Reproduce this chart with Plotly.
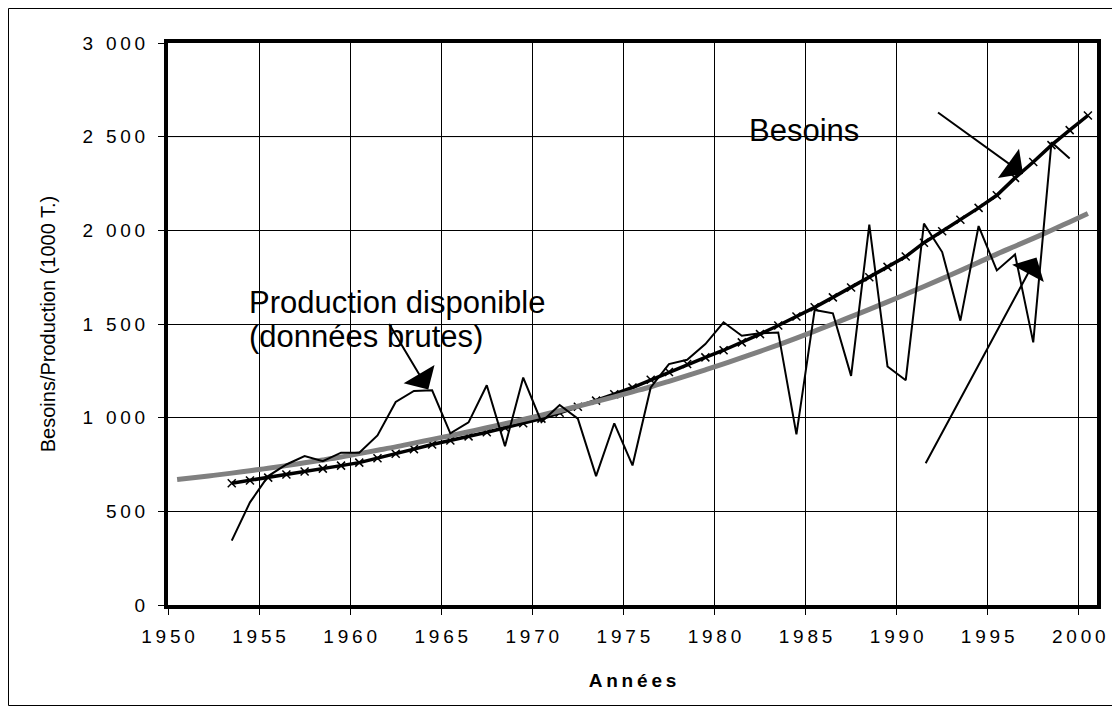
import plotly.graph_objects as go

# la page ajoute une marge de 8 px autour de la figure
OFF = 8
W, H = 1120 - OFF, 711 - OFF
ML, MR, MT, MB = 168 - OFF, 23, 43 - OFF, 106

annees_besoins = list(range(1953, 2001))
besoins = [650, 665, 680, 697, 713, 728, 744, 760, 783, 807,
           832, 857, 878, 900, 922, 946, 970, 995, 1026, 1058,
           1091, 1125, 1161, 1202, 1244, 1286, 1322, 1360, 1402, 1446,
           1492, 1540, 1589, 1642, 1695, 1750, 1805, 1860, 1934, 1995,
           2057, 2120, 2187, 2280, 2365, 2455, 2535, 2613]

annees_tendance = list(range(1950, 2001))
tendance = [670, 681, 692, 704, 717, 730, 744, 759, 774, 790,
            808, 826, 844, 864, 884, 904, 925, 946, 968, 990,
            1013, 1037, 1061, 1086, 1111, 1138, 1165, 1194, 1224, 1255,
            1287, 1320, 1354, 1389, 1425, 1462, 1500, 1539, 1578, 1618,
            1659, 1700, 1742, 1785, 1829, 1873, 1915, 1957, 2000, 2045,
            2090]

annees_prod = list(range(1953, 2000))
production = [344, 548, 688, 750, 795, 768, 813, 813, 905, 1084,
              1143, 1146, 916, 975, 1173, 848, 1214, 977, 1068, 995,
              688, 970, 745, 1161, 1286, 1309, 1393, 1509, 1437, 1450,
              1455, 911, 1575, 1557, 1223, 2030, 1273, 1200, 2036, 1884,
              1518, 2023, 1786, 1871, 1402, 2470, 2384]

x_ticks = list(range(1950, 2001, 5))
y_ticks = [0, 500, 1000, 1500, 2000, 2500, 3000]

TS = "\u2009"  # espace fine pour imiter l'espacement des lettres


def espace(s):
    return TS.join(s)


x_labels = [espace(str(a)) for a in x_ticks]
y_labels = [espace(f"{v:,}".replace(",", " ")) for v in y_ticks]

FONT = "Liberation Sans, Arial, sans-serif"

fig = go.Figure()
fig.add_trace(go.Scatter(x=[a + 0.5 for a in annees_besoins], y=besoins, mode="lines+markers",
                         line=dict(color="black", width=3.5),
                         marker=dict(symbol="x-thin", size=8, line=dict(color="black", width=1.5))))
fig.add_trace(go.Scatter(x=[a + 0.5 for a in annees_tendance], y=tendance, mode="lines",
                         line=dict(color="#808080", width=5, shape="spline")))
fig.add_trace(go.Scatter(x=[a + 0.5 for a in annees_prod], y=production, mode="lines",
                         line=dict(color="black", width=2)))

# flèches
arrows = [
    (1964.29, 1150, 1962.09, 1508),
    (1996.94, 2301, 1992.19, 2635),
    (1997.68, 1855, 1991.55, 749),
]
for x, y, ax, ay in arrows:
    fig.add_annotation(x=x, y=y, ax=ax, ay=ay, xref="x", yref="y", axref="x", ayref="y",
                       text="", showarrow=True, arrowhead=1, arrowsize=3, arrowwidth=2,
                       arrowcolor="black")

fig.add_annotation(x=1954.35, y=1615, text="Production disponible", showarrow=False,
                   xanchor="left", yanchor="middle", font=dict(family=FONT, size=31, color="black"))
fig.add_annotation(x=1954.35, y=1435, text="(données brutes)", showarrow=False,
                   xanchor="left", yanchor="middle", font=dict(family=FONT, size=31, color="black"))
fig.add_annotation(x=1981.78, y=2534, text="Besoins", showarrow=False,
                   xanchor="left", yanchor="middle", font=dict(family=FONT, size=31, color="black"))

# ligne de grille grise à 2 500
fig.add_shape(type="line", xref="paper", x0=0, x1=1, yref="y", y0=2500, y1=2500,
              line=dict(color="#808080", width=1), layer="below")

# cadre extérieur
pw, ph = W - ML - MR, H - MT - MB
fig.add_shape(type="rect", xref="paper", yref="paper",
              x0=(0.5 - ML) / pw, x1=(1113.5 - OFF - ML) / pw,
              y0=1 - (705.5 - OFF - MT) / ph, y1=1 + (MT - 0.5) / ph,
              line=dict(color="black", width=1))

fig.update_xaxes(range=[1950, 2001], tickvals=x_ticks, ticktext=x_labels,
                 showgrid=True, gridcolor="black", gridwidth=1, zeroline=False,
                 showline=True, linecolor="black", linewidth=4, mirror=True,
                 ticks="outside", ticklen=6, tickcolor="black", ticklabelstandoff=5,
                 tickfont=dict(family=FONT, size=19, color="black"),
                 title=dict(text=espace("Années"), standoff=29,
                            font=dict(family=FONT, size=19, color="black", weight="bold")))
fig.update_yaxes(range=[0, 3000], tickvals=y_ticks, ticktext=y_labels,
                 showgrid=True, gridcolor="black", gridwidth=1, zeroline=False,
                 showline=True, linecolor="black", linewidth=4, mirror=True,
                 ticks="outside", ticklen=6, tickcolor="black", ticklabelstandoff=9,
                 tickfont=dict(family=FONT, size=19, color="black"),
                 title=dict(text="Besoins/Production (1000 T.)", standoff=22,
                            font=dict(family=FONT, size=20, color="black")))

fig.update_layout(width=W, height=H, margin=dict(l=ML, r=MR, t=MT, b=MB),
                  paper_bgcolor="white", plot_bgcolor="white", showlegend=False)

fig.write_html("out.html")
